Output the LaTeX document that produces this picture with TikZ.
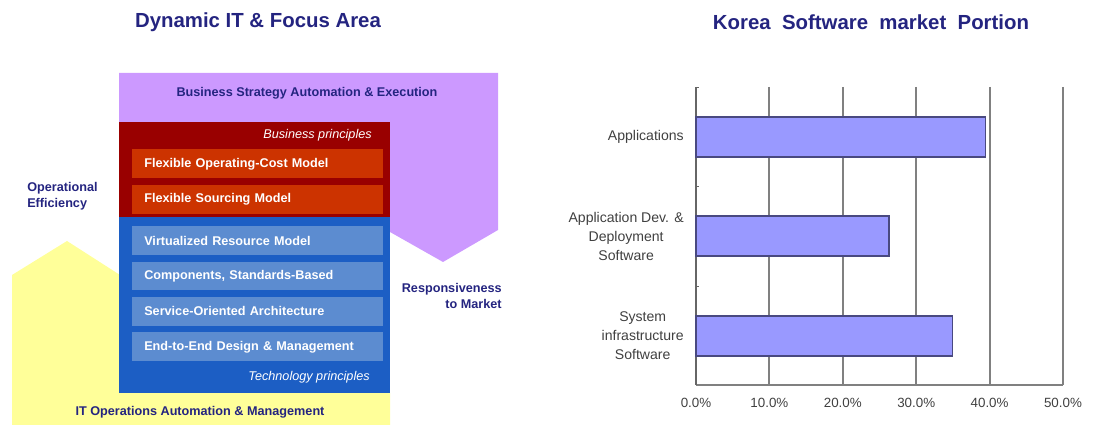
\documentclass[tikz,border=0pt]{standalone}
\usepackage{fontspec}
\setmainfont{Liberation Sans}
\usetikzlibrary{positioning}

\definecolor{navy}{RGB}{36,36,128}
\definecolor{lilac}{RGB}{204,153,255}
\definecolor{paleyellow}{RGB}{255,255,153}
\definecolor{darkred}{RGB}{153,0,0}
\definecolor{rust}{RGB}{204,51,0}
\definecolor{deepblue}{RGB}{28,94,196}
\definecolor{softblue}{RGB}{92,140,208}
\definecolor{barblue}{RGB}{153,153,255}
\definecolor{bargray}{RGB}{64,64,64}

\begin{document}
\begin{tikzpicture}[x=0.025cm,y=-0.025cm]
    \tikzstyle{title}=[font=\bfseries\fontsize{14.5}{17}\selectfont,text=navy]
    \tikzstyle{focus}=[font=\bfseries\fontsize{9}{11}\selectfont,text=navy,inner sep=0pt]
    \tikzstyle{principle}=[font=\itshape\fontsize{9}{11}\selectfont,text=white,inner sep=0pt]
    \tikzstyle{model}=[font=\bfseries\fontsize{9}{11}\selectfont,text=white,
    text width=5.675cm,align=left,inner xsep=0.3cm,inner ysep=0pt,
    minimum height=0.725cm,anchor=north west]
    \tikzstyle{bizmodel}=[model,fill=rust]
    \tikzstyle{techmodel}=[model,fill=softblue,minimum height=0.72cm]
    \tikzstyle{cat}=[font=\fontsize{10}{13.5}\selectfont,text=bargray,align=center,
    anchor=east,inner sep=0pt]
    \tikzstyle{tick}=[font=\fontsize{9.5}{11}\selectfont,text=bargray,inner sep=0pt]

    \useasboundingbox (0,0) rectangle (1093,425);

    % left: focus areas
    \node[title](dyn_title) at (258,22){Dynamic IT \& Focus Area};

    \fill[lilac] (119,73) -- (498,73) -- (498,230) -- (443,262) -- (390,232)
    -- (390,122) -- (119,122) -- cycle;
    \fill[paleyellow] (12,425) -- (12,275) -- (67,241) -- (120,275)
    -- (120,393) -- (390,393) -- (390,425) -- cycle;

    \fill[darkred] (119,122) rectangle (390,217);
    \fill[deepblue] (119,217) rectangle (390,393);

    \node[focus](strategy) at (307,93){Business Strategy Automation \& Execution};
    \node[focus](operations) at (200,412){IT Operations Automation \& Management};
    \node[focus,align=left,anchor=west](efficiency) at (27,196){Operational\\Efficiency};
    \node[focus,align=right,anchor=east](responsive) at (502,296){Responsiveness\\to Market};

    \node[principle,anchor=east](biz_princ) at (372,135){Business principles};
    \node[bizmodel](opcost) at (132,149){Flexible Operating-Cost Model};
    \node[bizmodel](sourcing)[below=0.15cm of opcost.south west,anchor=north west]{Flexible Sourcing Model};

    \node[techmodel](virtual) at (132,226){Virtualized Resource Model};
    \node[techmodel](components)[below=0.15cm of virtual.south west,anchor=north west]{Components, Standards-Based};
    \node[techmodel](soa)[below=0.15cm of components.south west,anchor=north west]{Service-Oriented Architecture};
    \node[techmodel](endtoend)[below=0.15cm of soa.south west,anchor=north west]{End-to-End Design \& Management};
    \node[principle,anchor=east](tech_princ) at (370,377){Technology principles};

    % right: market portion chart
    \node[title](korea_title) at (871,22){Korea~ Software~ market~ Portion};

    \foreach \v in {10,20,...,50}
      \draw[gray,line width=1.3pt] (696+7.34*\v,87) -- (696+7.34*\v,385);
    \foreach \v in {0,10,...,50}
      \node[tick](tick_\v) at (696+7.34*\v,403){\v.0\%};
    \draw[gray,line width=1.2pt] (696,385) -- (1063,385);
    \draw[bargray!80,line width=1.2pt] (696,87) -- (696,385);
    \foreach \y in {87,186,286}
      \draw[bargray!80,line width=0.7pt] (696,\y) -- (699,\y);

    \foreach \v/\y/\n in {39.4/137/apps,26.3/236/devdep,34.9/336/infra}
      \draw[fill=barblue,draw=navy!60!gray,line width=0.8pt]
        (696,\y-20) rectangle (696+7.34*\v,\y+20);

    \node[cat](apps) at (684,137){Applications};
    \node[cat](devdep) at (684,236){Application Dev. \&\\Deployment\\Software};
    \node[cat](infra) at (684,336){System\\infrastructure\\Software};
\end{tikzpicture}
\end{document}
